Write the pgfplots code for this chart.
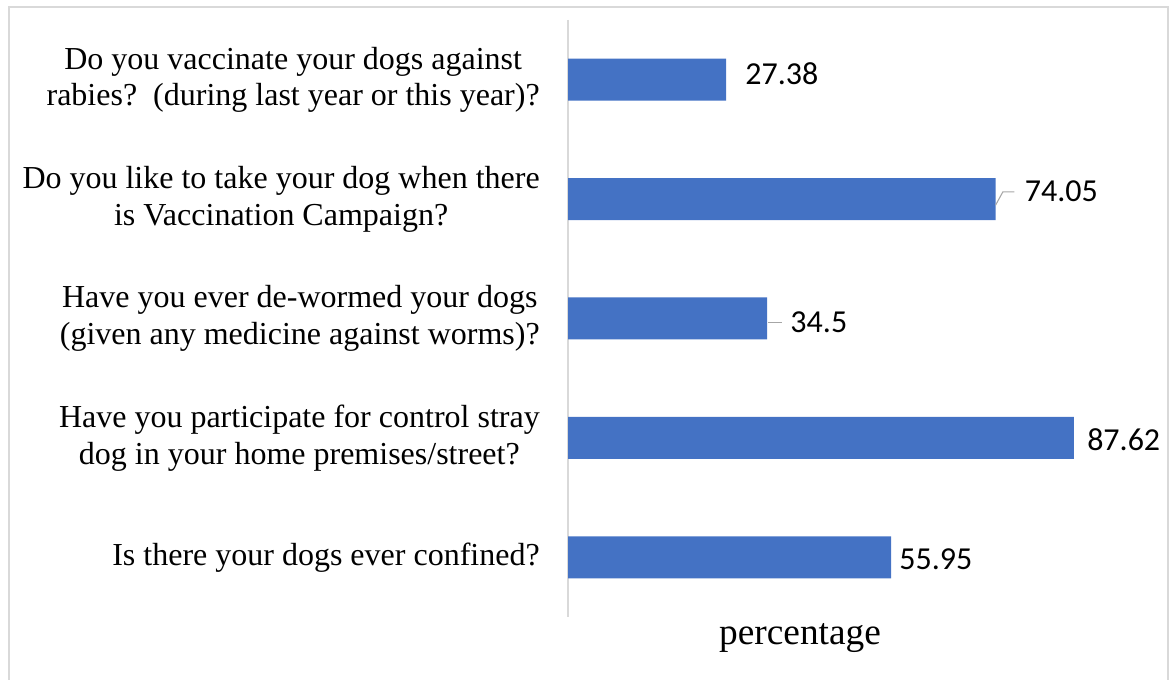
\documentclass[border=0pt]{standalone}
\usepackage{fontspec}
\setmainfont{Liberation Serif}
\newfontfamily\carlito{Carlito}
\usepackage{pgfplots}
\pgfplotsset{compat=1.18}
\usepackage{pgfplotstable}
\definecolor{barblue}{HTML}{4472C4}
\definecolor{framegray}{HTML}{D9D9D9}

\pgfplotstableread{
y x off dy lab
1 27.38 14.25 4.5 27.38
2 74.05 21.75 6 74.05
3 34.5 17.25 -3 34.5
4 87.62 9.75 -1.25 87.62
5 55.95 6 -1.75 55.95
}\data

\begin{document}
\begin{tikzpicture}
\useasboundingbox (0,0) rectangle (877.5pt,510pt);
\draw[framegray, line width=1.5pt] (7.1pt,-2pt) -- (7.1pt,504.4pt) -- (876pt,504.4pt) -- (876pt,-2pt);
\begin{axis}[
  at={(426pt,47.25pt)}, anchor=south west,
  scale only axis, width=433.1pt, height=447.75pt,
  xmin=0, xmax=100, ymin=0.5, ymax=5.5, y dir=reverse,
  axis lines*=left,
  x axis line style={draw=none},
  y axis line style={-, draw=framegray, line width=1pt},
  xtick=\empty, ytick={1,2,3,4,5},
  yticklabels={
    {Do you vaccinate your dogs against\\rabies?\ \ (during last year or this year)?},
    {Do you like to take your dog when there\\is Vaccination Campaign?},
    {Have you ever de-wormed your dogs\\(given any medicine against worms)?},
    {Have you participate for control stray\\dog in your home premises/street?},
    {Is there your dogs ever confined?}},
  major tick length=0pt,
  yticklabel style={font=\fontsize{24}{27.5}\selectfont, align=center, inner sep=0pt, anchor=east, xshift=-21pt},
  clip=false,
]
\addplot[xbar, bar width=31.5pt, bar shift=0pt, fill=barblue, draw=none,
  nodes near coords, point meta=explicit symbolic,
  visualization depends on={\thisrow{off} \as \off},
  visualization depends on={\thisrow{dy} \as \dy},
  every node near coord/.append style={anchor=west, inner sep=0pt, xshift=\off pt, yshift=\dy pt,
    font=\carlito\fontsize{24}{28}\selectfont, text=black}]
  table[x=x, y=y, meta=lab]{\data};
\addplot[gray!70, line width=0.8pt, no marks, forget plot] coordinates {(74.05,2.05) (75.3,1.94) (77.3,1.94)};
\addplot[gray!70, line width=0.8pt, no marks, forget plot] coordinates {(34.6,3.03) (37.0,3.03)};
\end{axis}
\node[anchor=base, font=\fontsize{28}{32}\selectfont] at (600pt,26.25pt) {percentage};
\end{tikzpicture}
\end{document}
